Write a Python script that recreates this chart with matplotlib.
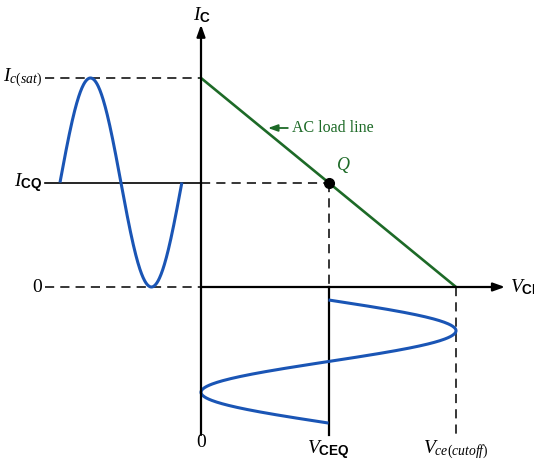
import numpy as np
import matplotlib
matplotlib.use("Agg")
import matplotlib.pyplot as plt

plt.rcParams['mathtext.fontset'] = 'custom'
plt.rcParams['mathtext.rm'] = 'Liberation Serif'
plt.rcParams['mathtext.it'] = 'Liberation Serif:italic'
plt.rcParams['mathtext.sf'] = 'Liberation Sans:bold'
plt.rcParams['font.family'] = ['Liberation Serif', 'DejaVu Serif']

# --- data (operating point values, arbitrary units) ---
ic_sat = 10.0          # Ic(sat)
icq = 5.0              # ICQ
vce_cutoff = 10.0      # Vce(cutoff)
vceq = 5.0             # VCEQ
# input (Ic) signal drawn left of the Ic axis: start/end on the VCE scale
ic_wave_x = [-5.53, -0.75]
# output (Vce) signal drawn below the VCE axis: start/end on the Ic scale
vce_wave_y = [-0.62, -6.51]

# pixel-to-data mapping of the canvas
W, H = 534, 461
px_x0, px_y0 = 201, 287      # origin in pixels
sx, sy = 25.5, 20.9          # pixels per unit

fig = plt.figure(figsize=(W / 100, H / 100), dpi=100)
ax = fig.add_axes([0, 0, 1, 1])
ax.set_xlim(-px_x0 / sx, (W - px_x0) / sx)
ax.set_ylim(-(H - px_y0) / sy, px_y0 / sy)
ax.axis('off')

green = '#1d6a27'
blue = '#1a55b5'
lab_x = -156 / sx   # left of labels (px 45)
bot = -148 / sy     # bottom of vertical lines (px 435)

# axes
ax.annotate('', xy=(0, 12.55), xytext=(0, bot),
            arrowprops=dict(arrowstyle='-|>,head_length=0.7,head_width=0.25',
                            lw=1.6, color='black', shrinkA=0, shrinkB=0))
ax.annotate('', xy=(304 / sx, 0), xytext=(0, 0),
            arrowprops=dict(arrowstyle='-|>,head_length=0.7,head_width=0.25',
                            lw=1.6, color='black', shrinkA=0, shrinkB=0))

# reference lines
dash = dict(color='black', lw=1.1, ls=(0, (6, 4)))
ax.plot([lab_x, 0], [ic_sat, ic_sat], **dash)
ax.plot([lab_x, 0], [0, 0], **dash)
ax.plot([lab_x, 0], [icq, icq], color='black', lw=1.2)
ax.plot([0, vceq], [icq, icq], **dash)
ax.plot([vceq, vceq], [icq, 0], **dash)
ax.plot([vceq, vceq], [0, bot], color='black', lw=1.6)
ax.plot([0, 0], [0, bot], **dash)
ax.plot([vce_cutoff, vce_cutoff], [0, bot], **dash)

# load line
ax.plot([0, vce_cutoff], [ic_sat, 0], color=green, lw=1.9)
ax.plot([vceq], [icq], 'o', color='black', ms=7)
ax.text(vceq + 0.3, icq + 0.35, r'$Q$', color=green, fontsize=13,
        ha='left', va='bottom')
ax.annotate('AC load line', xy=(67 / sx, (287 - 128) / sy),
            xytext=(91 / sx, (287 - 128) / sy), color=green, fontsize=11.5,
            va='center', ha='left',
            arrowprops=dict(arrowstyle='-|>,head_length=0.5,head_width=0.18',
                            color=green, lw=1.3, shrinkA=1, shrinkB=0))

# input signal (Ic)
amp_i = ic_sat - icq
x = np.linspace(ic_wave_x[0], ic_wave_x[1], 300)
ax.plot(x, icq + amp_i * np.sin(2 * np.pi * (x - ic_wave_x[0]) / (ic_wave_x[1] - ic_wave_x[0])),
        color=blue, lw=2.2, solid_capstyle='butt')

# output signal (Vce)
amp_v = vce_cutoff - vceq
y = np.linspace(vce_wave_y[0], vce_wave_y[1], 300)
ax.plot(vceq + amp_v * np.sin(2 * np.pi * (vce_wave_y[0] - y) / (vce_wave_y[0] - vce_wave_y[1])), y,
        color=blue, lw=2.2, solid_capstyle='butt')

# labels
fs = 14
ax.text(lab_x - 0.1, ic_sat, r'$I_{c(sat)}$', fontsize=fs, ha='right', va='center')
ax.text(lab_x - 0.1, icq, r'$I_{\mathsf{CQ}}$', fontsize=fs, ha='right', va='center')
ax.text(lab_x - 0.1, 0, '0', fontsize=fs, ha='right', va='center')
ax.text(0.05, 13.0, r'$I_{\mathsf{C}}$', fontsize=fs, ha='center', va='center')
ax.text(309 / sx, 0, r'$V_{\mathsf{CE}}$', fontsize=fs, ha='left', va='center')
ax.text(0, -160 / sy, '0', fontsize=fs, ha='center', va='baseline')
ax.text(vceq, -166 / sy, r'$V_{\mathsf{CEQ}}$', fontsize=fs, ha='center', va='baseline')
ax.text(vce_cutoff, -166 / sy, r'$V_{ce(cutoff)}$', fontsize=fs, ha='center', va='baseline')

fig.savefig('out.png', dpi=100)
